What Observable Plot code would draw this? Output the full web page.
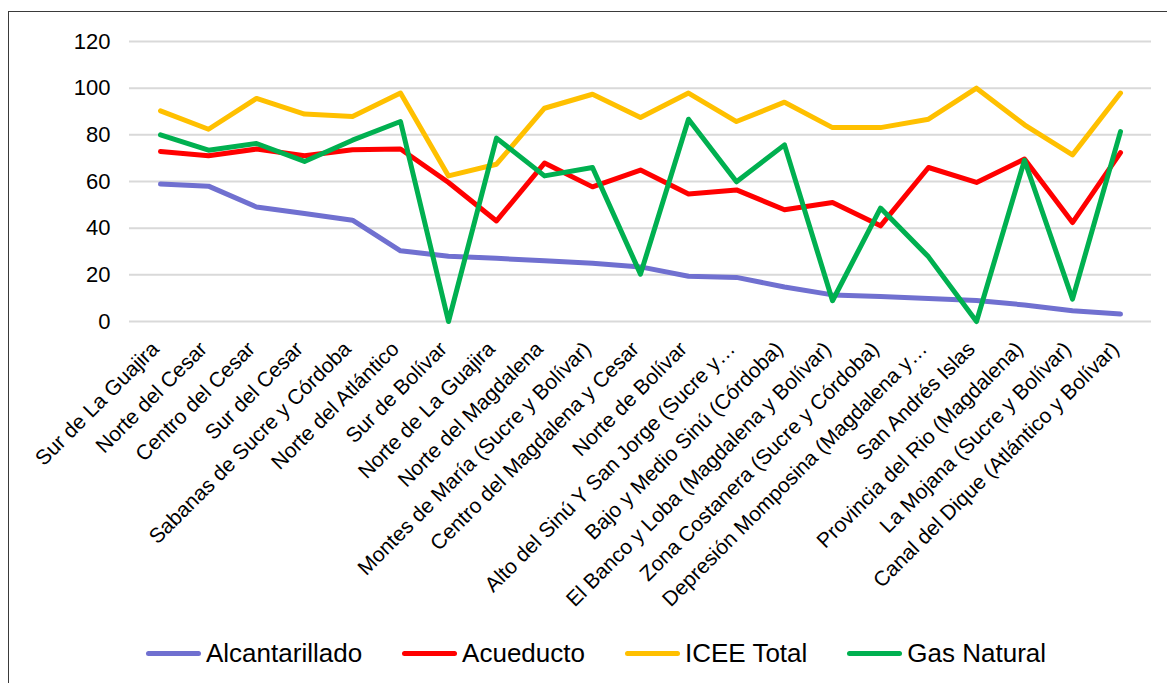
<!DOCTYPE html>
<html>
<head>
<meta charset="utf-8">
<script src="https://cdn.jsdelivr.net/npm/d3@7"></script>
<script src="https://cdn.jsdelivr.net/npm/@observablehq/plot@0.6"></script>
<style>
  html, body { margin: 0; padding: 0; background: #fff; overflow: hidden; width: 1167px; height: 683px; }
  body { font-family: "Liberation Sans", Arial, sans-serif; position: relative; }
  #frame { position: absolute; left: 8px; top: 11px; width: 1200px; height: 700px; border-left: 1.5px solid #3a3a3a; border-top: 1.5px solid #3a3a3a; }
  #chart { position: absolute; left: 0px; top: 0px; }
  #legend { position: absolute; left: 137px; top: 626px; display: flex; gap: 40px; align-items: center; font-size: 26px; color: #000; }
  .item { display: flex; align-items: center; }
  .sw { width: 55px; height: 5px; border-radius: 3px; margin-right: 5px; }
</style>
</head>
<body>
<div id="frame"><div id="chart"></div><div id="legend"></div></div>
<script>
const categories = [
  "Sur de La Guajira",
  "Norte del Cesar",
  "Centro del Cesar",
  "Sur del Cesar",
  "Sabanas de Sucre y Córdoba",
  "Norte del Atlántico",
  "Sur de Bolívar",
  "Norte de La Guajira",
  "Norte del Magdalena",
  "Montes de María (Sucre y Bolívar)",
  "Centro del Magdalena y Cesar",
  "Norte de Bolívar",
  "Alto del Sinú Y San Jorge (Sucre y…",
  "Bajo y Medio Sinú (Córdoba)",
  "El Banco y Loba (Magdalena y Bolívar)",
  "Zona Costanera (Sucre y Córdoba)",
  "Depresión Momposina (Magdalena y…",
  "San Andrés Islas",
  "Provincia del Rio (Magdalena)",
  "La Mojana (Sucre y Bolívar)",
  "Canal del Dique (Atlántico y Bolívar)"
];
const alcantarillado = [58.9, 58.0, 49.1, 46.3, 43.4, 30.3, 28.0, 27.1, 26.0, 25.0, 23.4, 19.4, 18.9, 14.8, 11.4, 10.7, 9.9, 9.0, 7.1, 4.6, 3.2];
const acueducto      = [72.9, 71.0, 73.9, 71.0, 73.6, 73.9, 59.6, 43.1, 67.9, 57.7, 64.9, 54.6, 56.4, 47.9, 51.0, 41.0, 66.0, 59.6, 69.6, 42.4, 72.4];
const iceeTotal      = [90.3, 82.4, 95.6, 88.9, 87.9, 97.9, 62.4, 67.4, 91.4, 97.4, 87.4, 97.9, 85.7, 94.0, 83.1, 83.1, 86.7, 100.0, 84.3, 71.4, 97.9];
const gasNatural     = [80.0, 73.4, 76.3, 68.6, 77.7, 85.7, 0.0, 78.6, 62.4, 66.0, 20.3, 86.7, 59.9, 75.7, 8.9, 48.6, 27.7, 0.0, 69.1, 9.6, 81.4];
const seriesNames  = ["Alcantarillado", "Acueducto", "ICEE Total", "Gas Natural"];
const seriesColors = ["#7070d0", "#ff0000", "#ffc000", "#00b050"];
const yTicks = [0, 20, 40, 60, 80, 100, 120];

const seriesValues = [alcantarillado, acueducto, iceeTotal, gasNatural];
const data = seriesNames.flatMap((s, si) =>
  categories.map((c, i) => ({series: s, cat: c, value: seriesValues[si][i]}))
);

const chart = Plot.plot({
  width: 1158,
  height: 660,
  marginLeft: 120,
  marginRight: 16,
  marginTop: 29,
  marginBottom: 351,
  style: {fontFamily: "'Liberation Sans', Arial, sans-serif", fontSize: "22px", color: "#000", background: "transparent"},
  x: {type: "point", domain: categories, padding: 0.5},
  y: {domain: [0, 120]},
  color: {domain: seriesNames, range: seriesColors},
  marks: [
    Plot.gridY(yTicks, {stroke: "#d9d9d9", strokeOpacity: 1, strokeWidth: 2}),
    Plot.axisY(yTicks, {tickSize: 0, tickPadding: 19, label: null, fontSize: 22, fill: "#000"}),
    Plot.axisX({tickSize: 0, tickRotate: -45, tickPadding: 6, dx: -5, dy: 18, label: null, fontSize: 21, fill: "#000"}),
    Plot.line(data, {x: "cat", y: "value", z: "series", stroke: "series", strokeWidth: 5, strokeLinejoin: "round", strokeLinecap: "round"})
  ]
});
document.getElementById("chart").appendChild(chart);

const legend = document.getElementById("legend");
seriesNames.forEach((s, i) => {
  const item = document.createElement("div");
  item.className = "item";
  const sw = document.createElement("span");
  sw.className = "sw";
  sw.style.background = seriesColors[i];
  const tx = document.createElement("span");
  tx.textContent = s;
  item.appendChild(sw);
  item.appendChild(tx);
  legend.appendChild(item);
});
</script>
</body>
</html>
